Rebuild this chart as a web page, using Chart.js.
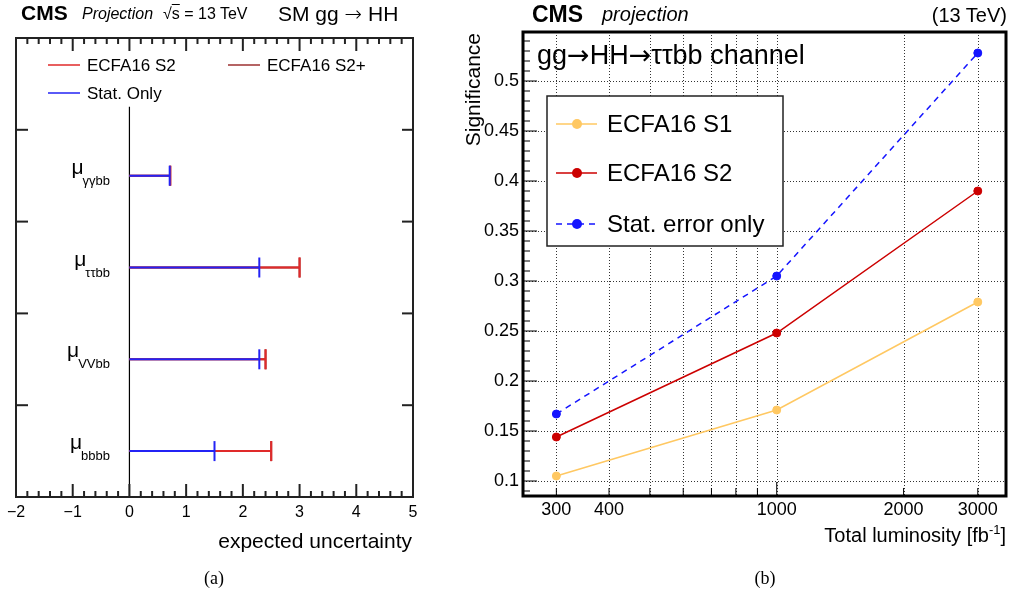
<!DOCTYPE html>
<html>
<head>
<meta charset="utf-8">
<style>
body { margin: 0; background: #fff; }
#page { position: relative; width: 1011px; height: 595px; overflow: hidden; font-family: "Liberation Sans", Arial, sans-serif; color: #000; }
#page canvas { position: absolute; top: 0; }
.t { position: absolute; white-space: nowrap; line-height: 1; }
.arr { font-family: "DejaVu Sans", sans-serif; font-weight: 200; }
.cap { position: absolute; width: 100px; text-align: center; font-family: "Liberation Serif", serif; font-size: 18px; line-height: 1; top: 569px; }
</style>
</head>
<body>
<div id="page">
    <canvas id="chartA" width="440" height="595" style="left:0px"></canvas>
    <canvas id="chartB" width="571" height="595" style="left:440px"></canvas>

    <div class="t" style="left:21px;top:2px;font-size:21px;font-weight:bold">CMS</div>
    <div class="t" style="left:82px;top:6px;font-size:16px;font-style:italic">Projection</div>
    <div class="t" style="left:163px;top:6px;font-size:16px">&radic;<span style="text-decoration:overline">s</span> = 13 TeV</div>
    <div class="t" style="left:278px;top:3px;font-size:21px">SM gg <span class="arr">&rarr;</span> HH</div>
    <div class="t" style="right:599px;top:530px;font-size:21px">expected uncertainty</div>
    <div class="cap" style="left:164px">(a)</div>

    <div class="t" style="left:532px;top:3px;font-size:23px;font-weight:bold">CMS</div>
    <div class="t" style="left:602px;top:4px;font-size:20px;font-style:italic">projection</div>
    <div class="t" style="right:4px;top:5px;font-size:20px">(13 TeV)</div>
    <div class="t" style="left:462px;top:233px;width:200px;text-align:right;font-size:21px;transform-origin:0 0;transform:rotate(-90deg)">Significance</div>
    <div class="t" style="right:5px;top:525px;font-size:20px">Total luminosity [fb<span style="position:relative;top:-8px;font-size:13px">-1</span>]</div>
    <div class="cap" style="left:715px">(b)</div>
</div>
<script src="https://cdn.jsdelivr.net/npm/chart.js@4.4.1/dist/chart.umd.min.js"></script>
<script>
var FONT = '"Liberation Sans", Arial, sans-serif';
var ARROW_FONT = '"DejaVu Sans", sans-serif';

// (a) expected uncertainty per channel, rows from bottom to top
var channels = ['bbbb', 'VVbb', '\u03c4\u03c4bb', '\u03b3\u03b3bb'];
var errS2 = [2.5, 2.4, 3.0, 0.72];
var errS2plus = [2.5, 2.4, 3.0, 0.72];
var errStat = [1.5, 2.29, 2.29, 0.71];
var xTicksA = [-2, -1, 0, 1, 2, 3, 4, 5];
var zeroLineTop = 4.25;

// (b) significance vs luminosity, tau tau bb channel
var lumi = [300, 1000, 3000];
var sigS1 = [0.105, 0.171, 0.279];
var sigS2 = [0.144, 0.248, 0.390];
var sigStat = [0.167, 0.305, 0.528];
var lumiTicks = [300, 400, 500, 600, 700, 800, 900, 1000, 2000, 3000];
var lumiLabels = [300, 400, 1000, 2000, 3000];
var sigTicks = [0.1, 0.15, 0.2, 0.25, 0.3, 0.35, 0.4, 0.45, 0.5];

function segDataset(label, vals, color) {
    var pts = [];
    for (var i = 0; i < vals.length; i++) {
        pts.push({x: 0, y: i + 0.5});
        pts.push({x: vals[i], y: i + 0.5});
        pts.push({x: null, y: null});
    }
    return {
        label: label,
        data: pts,
        showLine: true,
        spanGaps: false,
        borderColor: color,
        borderWidth: 2,
        pointStyle: 'line',
        pointRotation: 90,
        pointBorderColor: color,
        pointBorderWidth: 2,
        pointRadius: function(ctx) { return (ctx.raw && ctx.raw.x) ? 10 : 0; }
    };
}

function line(ctx, x1, y1, x2, y2) {
    ctx.beginPath();
    ctx.moveTo(x1, y1);
    ctx.lineTo(x2, y2);
    ctx.stroke();
}

var decorA = {
    id: 'decorA',
    beforeDatasetsDraw: function(chart) {
        var ctx = chart.ctx, x = chart.scales.x, y = chart.scales.y;
        ctx.save();
        ctx.strokeStyle = '#000';
        ctx.lineWidth = 1.2;
        line(ctx, x.getPixelForValue(0), y.getPixelForValue(0), x.getPixelForValue(0), y.getPixelForValue(zeroLineTop));
        ctx.restore();
    },
    afterDatasetsDraw: function(chart) {
        var ctx = chart.ctx, a = chart.chartArea, x = chart.scales.x, y = chart.scales.y;
        ctx.save();
        ctx.strokeStyle = '#222';
        ctx.lineWidth = 2;
        ctx.strokeRect(a.left, a.top, a.right - a.left, a.bottom - a.top);
        // inward ticks, 5 subdivisions per unit
        for (var k = -10; k <= 25; k++) {
            var px = x.getPixelForValue(k / 5);
            var len = (k % 5 === 0) ? 13 : 6;
            line(ctx, px, a.bottom, px, a.bottom - len);
            line(ctx, px, a.top, px, a.top + len);
        }
        for (var j = 1; j <= 4; j++) {
            var py = y.getPixelForValue(j);
            line(ctx, a.left, py, a.left + 12, py);
            line(ctx, a.right, py, a.right - 11, py);
        }
        // legend
        var ds = chart.data.datasets;
        var entries = [[ds[1], 48, 65], [ds[2], 228, 65], [ds[0], 48, 93]];
        ctx.font = '17px ' + FONT;
        ctx.textBaseline = 'middle';
        ctx.fillStyle = '#000';
        entries.forEach(function(e) {
            ctx.strokeStyle = e[0].borderColor;
            ctx.lineWidth = 1.5;
            line(ctx, e[1], e[2], e[1] + 32, e[2]);
            ctx.fillText(e[0].label, e[1] + 39, e[2] + 1);
        });
        // row labels mu_channel
        ctx.textAlign = 'right';
        ctx.textBaseline = 'alphabetic';
        for (var i = 0; i < channels.length; i++) {
            var yc = y.getPixelForValue(i + 0.5);
            ctx.font = '13px ' + FONT;
            var w = ctx.measureText(channels[i]).width;
            ctx.fillText(channels[i], 110, yc + 9);
            ctx.font = '21px ' + FONT;
            ctx.fillText('\u03bc', 111 - w, yc - 2);
        }
        ctx.restore();
    }
};

new Chart(document.getElementById('chartA'), {
    type: 'scatter',
    data: {
        datasets: [
            segDataset('Stat. Only', errStat, '#2323f5'),
            segDataset('ECFA16 S2', errS2, '#e02a2a'),
            segDataset('ECFA16 S2+', errS2plus, '#9c3030')
        ]
    },
    options: {
        responsive: false,
        animation: false,
        events: [],
        layout: {padding: {left: 16, top: 38, right: 27, bottom: 0}},
        plugins: {legend: {display: false}, tooltip: {enabled: false}},
        scales: {
            x: {
                type: 'linear', min: -2, max: 5,
                afterBuildTicks: function(s) { s.ticks = xTicksA.map(function(v) { return {value: v}; }); },
                afterFit: function(s) { s.height = 98; },
                grid: {display: false, drawTicks: false},
                border: {display: false},
                ticks: {
                    color: '#000', padding: 6, font: {family: FONT, size: 16},
                    callback: function(v) { return String(v).replace('-', '\u2212'); }
                }
            },
            y: {type: 'linear', min: 0, max: 5, display: false}
        }
    },
    plugins: [decorA]
});

function lineDs(label, vals, color, dash) {
    return {
        label: label,
        data: lumi.map(function(l, i) { return {x: l, y: vals[i]}; }),
        borderColor: color,
        backgroundColor: color,
        borderWidth: 1.5,
        borderDash: dash || [],
        pointRadius: 4,
        pointBorderWidth: 1,
        pointBackgroundColor: color,
        pointBorderColor: color,
        tension: 0
    };
}

// text with arrows drawn in a font that has a long arrow glyph
function fillMixed(ctx, parts, x, y, size) {
    parts.forEach(function(p) {
        ctx.font = size + 'px ' + (p === '\u2192' ? ARROW_FONT : FONT);
        ctx.fillText(p, x, y);
        x += ctx.measureText(p).width;
    });
}

var decorB = {
    id: 'decorB',
    beforeDatasetsDraw: function(chart) {
        var ctx = chart.ctx, a = chart.chartArea, x = chart.scales.x, y = chart.scales.y;
        ctx.save();
        ctx.strokeStyle = '#333';
        ctx.lineWidth = 1;
        ctx.setLineDash([1, 2]);
        lumiTicks.forEach(function(v) {
            var px = Math.round(x.getPixelForValue(v)) + 0.5;
            line(ctx, px, a.top, px, a.bottom);
        });
        sigTicks.forEach(function(v) {
            var py = Math.round(y.getPixelForValue(v)) + 0.5;
            line(ctx, a.left, py, a.right, py);
        });
        ctx.restore();
    },
    afterDatasetsDraw: function(chart) {
        var ctx = chart.ctx, a = chart.chartArea, x = chart.scales.x, y = chart.scales.y;
        ctx.save();
        ctx.strokeStyle = '#000';
        ctx.lineWidth = 1;
        for (var k = 9; k <= 54; k++) {
            var py = y.getPixelForValue(k / 100);
            line(ctx, a.left, py, a.left + (k % 5 === 0 ? 14 : 7), py);
        }
        lumiTicks.forEach(function(v) {
            var px = x.getPixelForValue(v);
            line(ctx, px, a.bottom, px, a.bottom - (v === 1000 ? 14 : 8));
        });
        ctx.lineWidth = 3;
        ctx.strokeRect(a.left, a.top, a.right - a.left, a.bottom - a.top);

        // legend box
        ctx.fillStyle = '#fff';
        ctx.fillRect(107, 96, 236, 150);
        ctx.strokeStyle = '#222';
        ctx.lineWidth = 1.5;
        ctx.strokeRect(107, 96, 236, 150);
        var ds = chart.data.datasets;
        var rows = [[ds[2], 124], [ds[1], 173], [ds[0], 224]];
        ctx.font = '24px ' + FONT;
        ctx.textBaseline = 'middle';
        rows.forEach(function(r) {
            ctx.strokeStyle = r[0].borderColor;
            ctx.lineWidth = 1.5;
            ctx.setLineDash(r[0].borderDash);
            line(ctx, 116, r[1], 157, r[1]);
            ctx.setLineDash([]);
            ctx.fillStyle = r[0].borderColor;
            ctx.beginPath();
            ctx.arc(137, r[1], 5, 0, 2 * Math.PI);
            ctx.fill();
            ctx.fillStyle = '#000';
            ctx.fillText(r[0].label, 167, r[1] + 1);
        });
        fillMixed(ctx, ['gg', '\u2192', 'HH', '\u2192', '\u03c4\u03c4bb channel'], 97, 57, 27);
        ctx.restore();
    }
};

new Chart(document.getElementById('chartB'), {
    type: 'line',
    data: {
        datasets: [
            lineDs('Stat. error only', sigStat, '#1414ff', [6, 5]),
            lineDs('ECFA16 S2', sigS2, '#cc0000'),
            lineDs('ECFA16 S1', sigS1, '#ffc862')
        ]
    },
    options: {
        responsive: false,
        animation: false,
        events: [],
        layout: {padding: {left: 0, top: 32, right: 4, bottom: 0}},
        plugins: {legend: {display: false}, tooltip: {enabled: false}},
        scales: {
            x: {
                type: 'logarithmic', min: 250, max: 3500,
                afterBuildTicks: function(s) { s.ticks = lumiTicks.map(function(v) { return {value: v}; }); },
                afterFit: function(s) { s.height = 99; },
                grid: {display: false, drawTicks: false},
                border: {display: false},
                ticks: {
                    color: '#000', padding: 3, autoSkip: false, maxRotation: 0,
                    font: {family: FONT, size: 18},
                    callback: function(v) { return lumiLabels.indexOf(v) >= 0 ? String(v) : ''; }
                }
            },
            y: {
                type: 'linear', min: 0.085, max: 0.549,
                afterBuildTicks: function(s) { s.ticks = sigTicks.map(function(v) { return {value: v}; }); },
                afterFit: function(s) { s.width = 83; },
                grid: {display: false, drawTicks: false},
                border: {display: false},
                ticks: {
                    color: '#000', padding: 4, font: {family: FONT, size: 18},
                    callback: function(v) { return String(Number(v.toFixed(2))); }
                }
            }
        }
    },
    plugins: [decorB]
});
</script>
</body>
</html>
